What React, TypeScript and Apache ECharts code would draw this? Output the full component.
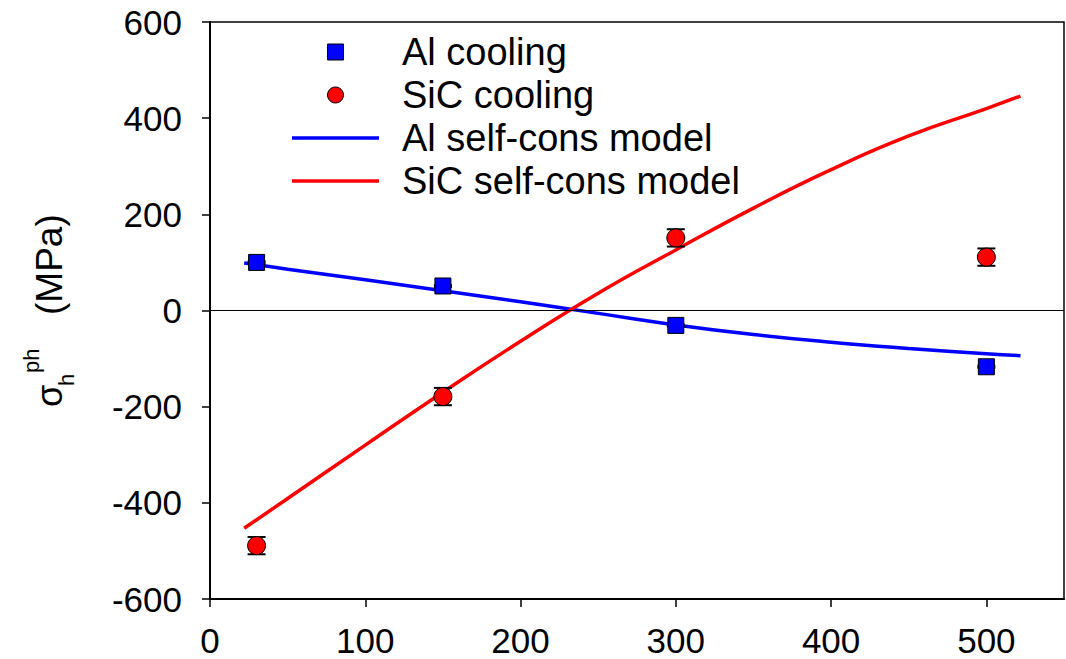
import React, { useEffect, useRef } from "react";
import * as echarts from "echarts";

// Measured hydrostatic phase stresses (MPa) versus temperature
const tempPoints = [30, 150, 300, 500];
const alCooling = [100, 51, -31, -117];
const alErr = [2, 2, 2, 2];
const sicCooling = [-489, -179, 151, 111];
const sicErr = [18, 18, 18, 18];

// Self-consistent model curves
const alModelX = [22, 50, 100, 150, 200, 250, 300, 350, 400, 450, 500, 522];
const alModelY = [99, 86, 64, 41, 18, -6, -30, -50, -66, -79, -90, -94];
const sicModelX = [22, 50, 100, 150, 200, 250, 300, 350, 400, 450, 500, 522];
const sicModelY = [-453, -391, -280, -170, -64, 36, 126, 213, 293, 363, 420, 446];

const xTicks = [0, 100, 200, 300, 400, 500];
const yTicks = [-600, -400, -200, 0, 200, 400, 600];

const FONT = "'Liberation Sans', Arial, sans-serif";
const BLUE = "#0000ff";
const RED = "#ff0000";

function errorBars(xs: number[], ys: number[], es: number[]) {
  return xs.map((x, i) => [x, ys[i], es[i]]);
}

function renderErrorBar(params: any, api: any) {
  const x = api.value(0);
  const y = api.value(1);
  const e = api.value(2);
  const top = api.coord([x, y + e]);
  const bot = api.coord([x, y - e]);
  const half = 9;
  const style = { stroke: "#000", lineWidth: 2 };
  return {
    type: "group",
    children: [
      { type: "line", shape: { x1: top[0], y1: top[1], x2: bot[0], y2: bot[1] }, style },
      { type: "line", shape: { x1: top[0] - half, y1: top[1], x2: top[0] + half, y2: top[1] }, style },
      { type: "line", shape: { x1: bot[0] - half, y1: bot[1], x2: bot[0] + half, y2: bot[1] }, style },
    ],
  };
}

export default function App() {
  const ref = useRef<HTMLDivElement>(null);

  useEffect(() => {
    if (!ref.current) return;
    const chart = echarts.init(ref.current, null, { renderer: "svg" });

    const option: any = {
      animation: false,
      backgroundColor: "#ffffff",
      grid: {
        left: 210,
        top: 22,
        right: 2,
        bottom: 60,
        show: true,
        borderColor: "#000",
        borderWidth: 1.5,
        backgroundColor: "transparent",
      },
      xAxis: {
        type: "value",
        min: 0,
        max: 550,
        interval: 100,
        splitLine: { show: false },
        axisLine: { onZero: false, lineStyle: { color: "#000", width: 2 } },
        axisTick: { show: true, inside: false, length: 8, lineStyle: { color: "#000", width: 1.5 }, customValues: xTicks },
        axisLabel: {
          color: "#000",
          fontFamily: FONT,
          fontSize: 35,
          margin: 24,
          customValues: xTicks,
        },
      },
      yAxis: {
        type: "value",
        min: -600,
        max: 600,
        interval: 200,
        splitLine: { show: false },
        axisLine: { onZero: false, lineStyle: { color: "#000", width: 2 } },
        axisTick: { show: true, inside: false, length: 8, lineStyle: { color: "#000", width: 1.5 }, customValues: yTicks },
        axisLabel: {
          color: "#000",
          fontFamily: FONT,
          fontSize: 35,
          margin: 28,
          customValues: yTicks,
        },
      },
      legend: {
        orient: "vertical",
        left: 292,
        top: 33,
        padding: 0,
        itemWidth: 87,
        itemHeight: 16,
        itemGap: 5,
        selectedMode: false,
        textStyle: {
          color: "#000",
          fontFamily: FONT,
          fontSize: 38,
          lineHeight: 38,
          padding: [0, 0, 0, 18],
        },
        data: [
          {
            name: "Al cooling",
            icon: "path://M0,0H16V16H0Z",
            itemStyle: { color: BLUE, borderColor: "#000", borderWidth: 1 },
          },
          {
            name: "SiC cooling",
            icon: "circle",
            itemStyle: { color: RED, borderColor: "#000", borderWidth: 1 },
          },
          {
            name: "Al self-cons model",
            icon: "path://M0,0H87V3.5H0Z",
            itemStyle: { color: BLUE, borderWidth: 0 },
          },
          {
            name: "SiC self-cons model",
            icon: "path://M0,0H87V3.5H0Z",
            itemStyle: { color: RED, borderWidth: 0 },
          },
        ],
      },
      graphic: [
        {
          type: "group",
          x: 49,
          y: 407,
          rotation: Math.PI / 2,
          children: [
            { type: "text", x: 0, y: 0, style: { text: "σ", font: `36px ${FONT}`, fill: "#000", verticalAlign: "middle", align: "left" } },
            { type: "text", x: 21, y: 17, style: { text: "h", font: `22px ${FONT}`, fill: "#000", verticalAlign: "middle", align: "left" } },
            { type: "text", x: 34, y: -18, style: { text: "ph", font: `22px ${FONT}`, fill: "#000", verticalAlign: "middle", align: "left" } },
            { type: "text", x: 92, y: 0, style: { text: "(MPa)", font: `37px ${FONT}`, fill: "#000", verticalAlign: "middle", align: "left" } },
          ],
        },
      ],
      series: [
        {
          name: "Al self-cons model",
          type: "line",
          data: alModelX.map((x, i) => [x, alModelY[i]]),
          smooth: true,
          symbol: "none",
          z: 2,
          color: BLUE,
          lineStyle: { color: BLUE, width: 3.5 },
          markLine: {
            silent: true,
            symbol: "none",
            label: { show: false },
            lineStyle: { color: "#000", width: 1, type: "solid" },
            data: [{ yAxis: 0 }],
          },
        },
        {
          name: "SiC self-cons model",
          type: "line",
          data: sicModelX.map((x, i) => [x, sicModelY[i]]),
          smooth: true,
          symbol: "none",
          z: 2,
          color: RED,
          lineStyle: { color: RED, width: 3.5 },
        },
        {
          name: "Al error",
          type: "custom",
          renderItem: renderErrorBar,
          data: errorBars(tempPoints, alCooling, alErr),
          encode: { x: 0, y: 1 },
          z: 3,
        },
        {
          name: "SiC error",
          type: "custom",
          renderItem: renderErrorBar,
          data: errorBars(tempPoints, sicCooling, sicErr),
          encode: { x: 0, y: 1 },
          z: 3,
        },
        {
          name: "Al cooling",
          type: "scatter",
          data: tempPoints.map((x, i) => [x, alCooling[i]]),
          symbol: "rect",
          symbolSize: 16,
          z: 4,
          color: BLUE,
          itemStyle: { color: BLUE, borderColor: "#000", borderWidth: 1, opacity: 1 },
        },
        {
          name: "SiC cooling",
          type: "scatter",
          data: tempPoints.map((x, i) => [x, sicCooling[i]]),
          symbol: "circle",
          symbolSize: 18,
          z: 4,
          color: RED,
          itemStyle: { color: RED, borderColor: "#000", borderWidth: 1, opacity: 1 },
        },
      ],
    };

    chart.setOption(option);
    return () => chart.dispose();
  }, []);

  return (
    <div
      ref={ref}
      style={{ position: "fixed", left: 0, top: 0, width: 1066, height: 659, background: "#fff" }}
    />
  );
}
